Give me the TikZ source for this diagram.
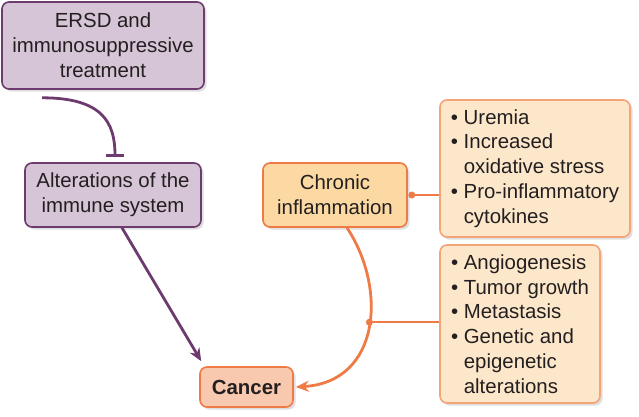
\documentclass[tikz,border=0pt]{standalone}
\usepackage{fontspec}
\setmainfont{Liberation Sans}
\usetikzlibrary{arrows.meta,shadows}
\definecolor{plum}{HTML}{6E3B6E}
\definecolor{lilac}{HTML}{D6C5D6}
\definecolor{flame}{HTML}{EE7A45}
\definecolor{apricot}{HTML}{F8C9AE}
\definecolor{honey}{HTML}{FCD9A2}
\definecolor{cream}{HTML}{FDE7CA}
\definecolor{peach}{HTML}{F4A479}
\definecolor{ink}{HTML}{231F20}
\newcommand{\bul}{\textbullet\ }
\newcommand{\hang}{\hphantom{\textbullet\ }}
\tikzset{
  box/.style={rounded corners=7pt, line width=1.6pt, inner sep=0pt, text=ink,
    font=\fontsize{20.4}{24.8}\selectfont,
    drop shadow={shadow xshift=2.5pt,shadow yshift=-2.5pt,opacity=0.25}},
  purplebox/.style={box, draw=plum, fill=lilac, align=center},
  orangebox/.style={box, draw=flame, align=center},
  listbox/.style={box, draw=peach, fill=cream, align=left},
  inhibit/.style={plum, line width=2.8pt, -{Bar[width=18pt,line width=2.8pt]}},
  push/.style={plum, line width=2.8pt, -{Stealth[length=13pt,width=11pt]}},
  feed/.style={flame, line width=2.8pt, -{Stealth[length=13pt,width=11pt]}},
  link/.style={flame, line width=1.8pt}
}
\begin{document}
\begin{tikzpicture}[x=1pt,y=1pt]
  \useasboundingbox (0,0) rectangle (639,416);
  \node[purplebox, minimum width=202, minimum height=87] (ersd) at (103,370.5)
    {ERSD and\\immunosuppressive\\treatment};
  \node[purplebox, minimum width=176, minimum height=64] (immune) at (113,221)
    {Alterations of the\\immune system};
  \node[orangebox, fill=honey, minimum width=144, minimum height=64] (chronic) at (335,221)
    {Chronic\\inflammation};
  \node[orangebox, fill=apricot, minimum width=93, minimum height=40] (cancer) at (246.5,29)
    {\bfseries Cancer};
  \node[listbox, minimum width=190, minimum height=137] (risk) at (535,247.5)
    {\bul Uremia\\\bul Increased\\\hang oxidative stress\\\bul Pro-inflammatory\\\hang cytokines};
  \node[listbox, minimum width=160, minimum height=158] (effects) at (520,92)
    {\bul Angiogenesis\\\bul Tumor growth\\\bul Metastasis\\\bul Genetic and\\\hang epigenetic\\\hang alterations};

  % immune branch
  \coordinate (inh) at ([xshift=41pt,yshift=-8pt]ersd.south west);
  \draw[inhibit, shorten >=5pt] (inh) .. controls +(60,0) and +(0,40) .. ([xshift=2pt]immune.north);
  \draw[push] ([xshift=9pt]immune.south) -- ([shift={(2pt,5pt)}]cancer.north west);

  % inflammation branch
  \coordinate (dot) at ([xshift=4pt]chronic.east);
  \draw[feed] ([xshift=12pt]chronic.south) .. controls +(40,-60) and +(85,5) ..
    coordinate[pos=0.47] (mid) ([xshift=2pt]cancer.east);
  \draw[link] (dot) -- (dot -| risk.west);
  \draw[link] (mid) -- (mid -| effects.west);
  \fill[flame] (dot) circle (3.5pt);
  \fill[flame] (mid) circle (3.5pt);
\end{tikzpicture}
\end{document}
